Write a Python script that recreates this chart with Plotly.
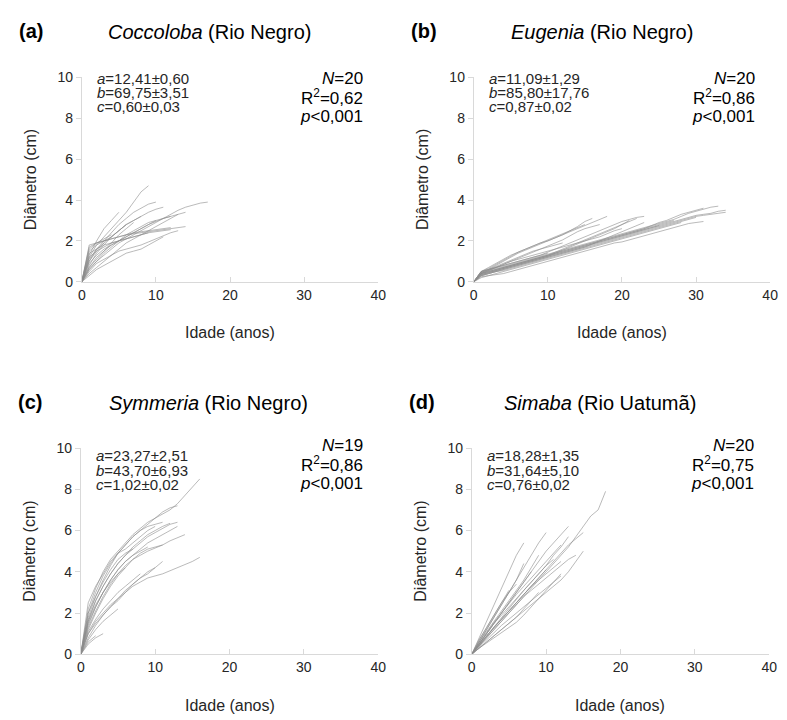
import plotly.graph_objects as go

# ---------------- data (diameter in cm at each year of age, starting at age 0) ----------------
coccoloba = [
    [0, 1.2, 1.8, 2.2, 2.6, 3.0, 3.4, 3.9, 4.4, 4.7],
    [0, 1.0, 1.6, 2.0, 2.4, 2.8, 3.1, 3.4, 3.6, 3.8, 3.9],
    [0, 0.8, 1.4, 1.8, 2.2, 2.5, 2.8, 3.0, 3.2, 3.4, 3.55, 3.65],
    [0, 0.6, 1.0, 1.3, 1.6, 1.9, 2.1, 2.3, 2.5, 2.7, 2.9, 3.1, 3.3, 3.5, 3.65, 3.75, 3.85, 3.9],
    [0, 0.7, 1.2, 1.5, 1.8, 2.0, 2.2, 2.4, 2.6, 2.8, 2.95, 3.1, 3.2, 3.3, 3.4],
    [0, 1.7, 1.9, 2.0, 2.1, 2.2, 2.3, 2.35, 2.4, 2.45, 2.5, 2.55, 2.6, 2.65, 2.7],
    [0, 0.5, 0.9, 1.1, 1.3, 1.5, 1.6, 1.7, 1.8, 1.95, 2.1, 2.25, 2.4, 2.5],
    [0, 1.3, 2.0, 2.6, 3.0, 3.4],
    [0, 1.8, 1.9, 2.0, 2.1, 2.2, 2.3, 2.4, 2.45, 2.5, 2.55, 2.6, 2.65],
    [0, 0.4, 0.7, 1.0, 1.3, 1.6, 1.9, 2.1, 2.3, 2.5, 2.7, 2.9, 3.1, 3.3],
    [0, 0.9, 1.3, 1.6, 1.8, 2.0, 2.2, 2.4, 2.6, 2.8, 3.0],
    [0, 0.6, 1.0, 1.4, 1.7, 2.0, 2.3, 2.5, 2.7, 2.9, 3.0, 3.1, 3.2],
    [0, 1.5, 1.8, 2.0, 2.2, 2.5, 2.8, 3.0, 3.2],
    [0, 1.0, 1.5, 1.9, 2.2, 2.5, 2.8],
    [0, 0.3, 0.6, 0.8, 1.0, 1.2, 1.4, 1.5, 1.6, 1.8, 2.0, 2.2],
    [0, 1.6, 1.9, 2.1, 2.3],
    [0, 1.2, 1.5, 1.7, 1.9, 2.0, 2.1, 2.2, 2.3, 2.4],
    [0, 1.1, 1.6, 1.9],
    [0, 0.7, 1.1, 1.5, 1.9, 2.3, 2.6, 2.9],
    [0, 1.4, 1.6, 1.8, 1.9, 2.0, 2.1, 2.2, 2.3, 2.4, 2.45, 2.5, 2.55],
]

eugenia = [
    [0, 0.45, 0.6, 0.8, 1.0, 1.2, 1.4, 1.55, 1.7, 1.85, 2.0, 2.15, 2.3, 2.5, 2.7, 2.95, 3.1],
    [0, 0.5, 0.65, 0.85, 1.05, 1.25, 1.45, 1.6, 1.75, 1.9, 2.0, 2.15, 2.3, 2.45, 2.6, 2.75, 2.9, 3.05, 3.2],
    [0, 0.4, 0.55, 0.7, 0.85, 1.0, 1.15, 1.3, 1.45, 1.6, 1.75, 1.9, 2.05, 2.25, 2.45, 2.6, 2.7, 2.8],
    [0, 0.5, 0.6, 0.7, 0.8, 0.9, 1.0, 1.1, 1.2, 1.3, 1.45, 1.6, 1.75, 1.9, 2.05, 2.2, 2.35, 2.5, 2.65, 2.8, 2.95, 3.05, 3.15, 3.2],
    [0, 0.4, 0.5, 0.6, 0.7, 0.8, 0.9, 1.0, 1.1, 1.2, 1.3, 1.45, 1.6, 1.75, 1.9, 2.05, 2.2, 2.35, 2.5, 2.65, 2.8, 2.95, 3.1],
    [0, 0.35, 0.45, 0.55, 0.65, 0.75, 0.85, 0.95, 1.05, 1.15, 1.25, 1.4, 1.55, 1.7, 1.85, 2.0, 2.15, 2.3, 2.45, 2.6, 2.8, 3.0],
    [0, 0.3, 0.4, 0.5, 0.6, 0.7, 0.8, 0.9, 1.0, 1.1, 1.2, 1.3, 1.4, 1.5, 1.6, 1.7, 1.85, 2.0, 2.15, 2.3, 2.45, 2.6, 2.75, 2.9],
    [0, 0.4, 0.5, 0.6, 0.7, 0.8, 0.9, 1.0, 1.1, 1.2, 1.3, 1.4, 1.5, 1.6, 1.7, 1.8, 1.9, 2.0, 2.1, 2.2, 2.3, 2.4, 2.5, 2.6, 2.75, 2.9, 3.0, 3.15, 3.3, 3.4, 3.5, 3.6],
    [0, 0.45, 0.55, 0.65, 0.75, 0.85, 0.95, 1.05, 1.15, 1.25, 1.35, 1.45, 1.55, 1.65, 1.75, 1.85, 1.95, 2.05, 2.15, 2.25, 2.35, 2.45, 2.55, 2.65, 2.75, 2.85, 2.95, 3.05, 3.2, 3.35, 3.45, 3.55, 3.65, 3.7],
    [0, 0.35, 0.45, 0.55, 0.65, 0.75, 0.85, 0.95, 1.05, 1.15, 1.25, 1.35, 1.45, 1.55, 1.65, 1.75, 1.85, 1.95, 2.05, 2.15, 2.25, 2.35, 2.45, 2.55, 2.65, 2.75, 2.85, 2.95, 3.05, 3.15, 3.25, 3.3, 3.35, 3.45, 3.5],
    [0, 0.3, 0.4, 0.5, 0.6, 0.7, 0.8, 0.9, 1.0, 1.1, 1.2, 1.3, 1.4, 1.5, 1.6, 1.7, 1.8, 1.9, 2.0, 2.1, 2.2, 2.3, 2.4, 2.5, 2.6, 2.7, 2.8, 2.9, 3.0, 3.1, 3.2, 3.25, 3.3, 3.35, 3.4],
    [0, 0.25, 0.3, 0.35, 0.4, 0.5, 0.6, 0.7, 0.8, 0.9, 1.0, 1.1, 1.2, 1.3, 1.4, 1.5, 1.6, 1.7, 1.8, 1.9, 1.95, 2.05, 2.15, 2.25, 2.35, 2.45, 2.55, 2.65, 2.75, 2.85, 2.9, 2.95],
    [0, 0.2, 0.3, 0.4, 0.5, 0.6, 0.7, 0.8, 0.9, 1.0, 1.1, 1.2, 1.3, 1.4, 1.5, 1.6, 1.7, 1.8, 1.9, 2.0, 2.1, 2.2, 2.3, 2.4, 2.5, 2.6, 2.7, 2.8, 2.9],
    [0, 0.5, 0.7, 0.9, 1.1, 1.3, 1.45, 1.6, 1.75, 1.9, 2.05, 2.2, 2.35, 2.5, 2.65, 2.8],
    [0, 0.4, 0.55, 0.7, 0.85, 1.0, 1.1, 1.2, 1.3, 1.4, 1.5, 1.6, 1.7, 1.8, 1.9, 2.0, 2.1, 2.2, 2.35, 2.5, 2.6],
    [0, 0.35, 0.45, 0.55, 0.65, 0.75, 0.85, 0.95, 1.05, 1.15, 1.25, 1.35, 1.45, 1.55, 1.65, 1.75, 1.85, 1.95, 2.05, 2.15, 2.25, 2.35, 2.45, 2.55, 2.65, 2.75],
    [0, 0.5, 0.6, 0.75, 0.9, 1.05, 1.2, 1.35, 1.5, 1.6, 1.7, 1.8, 1.9],
    [0, 0.3, 0.4, 0.5, 0.55, 0.65, 0.75, 0.85, 0.95, 1.05, 1.15, 1.25, 1.35, 1.45, 1.55, 1.65, 1.75, 1.85, 1.95, 2.05, 2.15, 2.25, 2.35, 2.45, 2.55, 2.65, 2.75, 2.85, 2.95, 3.05, 3.15],
    [0, 0.45, 0.6, 0.7, 0.8, 0.9, 1.0, 1.1, 1.2, 1.3, 1.4],
    [0, 0.4, 0.5, 0.6, 0.7, 0.8, 0.9, 1.0, 1.1, 1.2, 1.3, 1.4, 1.5, 1.6, 1.7, 1.8, 1.9, 2.0, 2.1, 2.2, 2.3, 2.4, 2.5, 2.6, 2.7, 2.8, 2.9, 3.0],
]

symmeria = [
    [0, 2.2, 3.2, 4.0, 4.6, 5.0, 5.4, 5.8, 6.1, 6.4, 6.6, 6.8, 7.0, 7.3, 7.7, 8.1, 8.5],
    [0, 2.0, 3.0, 3.8, 4.4, 4.9, 5.3, 5.7, 6.0, 6.3, 6.6, 6.9, 7.1, 7.2],
    [0, 1.8, 2.8, 3.6, 4.3, 4.9, 5.3, 5.7, 6.0, 6.2, 6.3, 6.4],
    [0, 1.6, 2.6, 3.3, 3.9, 4.4, 4.8, 5.1, 5.4, 5.7, 5.9, 6.1, 6.3, 6.4],
    [0, 1.4, 2.3, 3.0, 3.6, 4.1, 4.5, 4.8, 5.1, 5.4, 5.6, 5.8, 6.0, 6.2],
    [0, 1.2, 2.0, 2.7, 3.3, 3.8, 4.2, 4.6, 4.9, 5.1, 5.2, 5.3, 5.5, 5.65, 5.8],
    [0, 1.0, 1.6, 2.0, 2.4, 2.7, 3.0, 3.3, 3.5, 3.7, 3.8, 3.9, 4.05, 4.2, 4.35, 4.5, 4.7],
    [0, 0.8, 1.4, 1.9, 2.3, 2.6, 3.0, 3.4, 3.7, 3.9, 4.2, 4.5],
    [0, 0.7, 1.2, 1.6, 1.9, 2.2],
    [0, 0.5, 0.8, 1.0],
    [0, 2.5, 3.3, 3.9, 4.5, 4.9, 5.1, 5.4, 5.7, 6.0, 6.2],
    [0, 1.7, 2.6, 3.3, 3.9, 4.4, 4.8, 5.2, 5.5, 5.8, 6.0, 6.2, 6.35],
    [0, 1.5, 2.3, 3.0, 3.6, 4.1, 4.5, 4.8, 5.0, 5.2],
    [0, 1.3, 2.1, 2.8, 3.4, 3.9, 4.3, 4.6, 4.8, 5.0, 5.15, 5.3],
    [0, 1.1, 1.7, 2.2, 2.6, 3.0, 3.3, 3.6, 3.9],
    [0, 0.6, 0.9],
    [0, 2.0, 2.8, 3.5, 4.1, 4.6, 4.9, 5.1],
    [0, 1.0, 1.5, 1.9, 2.3, 2.7, 3.1, 3.4, 3.7, 4.0, 4.2],
    [0, 1.6, 2.4, 3.0, 3.5, 3.9, 4.2],
]

simaba = [
    [0, 0.4, 0.8, 1.2, 1.6, 2.0, 2.4, 2.8, 3.2, 3.6, 4.0, 4.4, 4.8, 5.2, 5.7, 6.2, 6.7, 7.0, 7.9],
    [0, 0.8, 1.6, 2.4, 3.2, 4.0, 4.8, 5.4],
    [0, 0.6, 1.2, 1.8, 2.4, 3.0, 3.6, 4.2, 4.8, 5.4, 5.9],
    [0, 0.5, 1.0, 1.5, 2.0, 2.5, 3.0, 3.5, 4.0, 4.5, 5.0, 5.4, 5.8, 6.2],
    [0, 0.45, 0.9, 1.3, 1.7, 2.1, 2.5, 2.9, 3.3, 3.7, 4.1, 4.5, 4.9, 5.3, 5.6, 5.9],
    [0, 0.3, 0.6, 0.9, 1.2, 1.5, 1.8, 2.1, 2.4, 2.7, 3.0, 3.3, 3.6, 4.0, 4.5, 5.0],
    [0, 0.4, 0.8, 1.2, 1.6, 2.0, 2.4, 2.8, 3.1, 3.4, 3.7, 4.0, 4.3, 4.6, 4.8],
    [0, 0.35, 0.7, 1.05, 1.4, 1.7, 2.0, 2.3, 2.6, 2.9, 3.2, 3.5, 3.9],
    [0, 0.5, 1.0, 1.5, 1.9, 2.3, 2.7, 3.1, 3.5, 3.9, 4.3, 4.8, 5.2, 5.7],
    [0, 0.6, 1.1, 1.6, 2.1, 2.6, 3.1, 3.6, 4.2, 4.8],
    [0, 0.7, 1.3, 1.9, 2.5, 3.0, 3.4],
    [0, 0.5, 1.0, 1.5, 2.0, 2.5, 3.0, 3.5, 4.0],
    [0, 0.45, 0.9, 1.35, 1.8, 2.25, 2.7, 3.1, 3.5, 3.9, 4.3, 4.6],
    [0, 0.3, 0.55, 0.8, 1.05, 1.3, 1.55, 1.9, 2.3, 2.7, 3.1, 3.5, 3.8],
    [0, 0.6, 1.2, 1.8, 2.4, 3.0, 3.6, 4.4],
    [0, 0.5, 0.9, 1.3, 1.7, 2.1, 2.5, 2.9, 3.3, 3.7, 4.1],
    [0, 0.55, 1.05, 1.55, 2.0, 2.5, 2.9, 3.3, 3.7, 4.1, 4.5, 4.9, 5.3],
    [0, 0.7, 1.3, 1.9, 2.5, 3.1],
    [0, 0.3, 0.6, 0.9, 1.2, 1.5, 1.8, 2.2, 2.6, 3.0],
    [0, 0.45, 0.9, 1.3, 1.7, 2.1, 2.5, 2.9, 3.3, 3.6, 3.9, 4.2, 4.5],
]

panel_letters = ["(a)", "(b)", "(c)", "(d)"]
genus_names = ["Coccoloba", "Eugenia", "Symmeria", "Simaba"]
river_names = ["(Rio Negro)", "(Rio Negro)", "(Rio Negro)", "(Rio Uatumã)"]
param_a = ["12,41±0,60", "11,09±1,29", "23,27±2,51", "18,28±1,35"]
param_b = ["69,75±3,51", "85,80±17,76", "43,70±6,93", "31,64±5,10"]
param_c = ["0,60±0,03", "0,87±0,02", "1,02±0,02", "0,76±0,02"]
n_trees = [20, 20, 19, 20]
r_squared = ["0,62", "0,86", "0,86", "0,75"]
p_values = ["<0,001", "<0,001", "<0,001", "<0,001"]

x_ticks = [0, 10, 20, 30, 40]
y_ticks = [0, 2, 4, 6, 8, 10]
x_label = "Idade (anos)"
y_label = "Diâmetro (cm)"

# ---------------- layout geometry (pixels of the 787x720 picture) ----------------
W, H = 787, 720
# (x0, x1, ytop, ybottom) of each plot area in pixels
boxes = [
    (79, 380, 71, 280),
    (477, 778, 71, 280),
    (78, 380, 450, 661),
    (475, 777, 450, 661),
]
abc_top = [72, 72, 458, 458]     # centre of the first parameter line
stat_top = [72, 72, 447, 447]    # centre of the N= line

def px(x):
    return x / W

def py(y):
    return 1 - y / H

FONT = "Arial, Liberation Sans, sans-serif"
TXT = "#262626"
AX = "#d9d9d9"
LINE = "rgba(140,140,140,0.6)"

fig = go.Figure()
layout = dict(
    width=W, height=H,
    margin=dict(l=0, r=0, t=0, b=0, pad=0),
    paper_bgcolor="white", plot_bgcolor="white",
    showlegend=False,
    font=dict(family=FONT, color=TXT),
)
annotations = []
datasets = [coccoloba, eugenia, symmeria, simaba]

for i, (series, box) in enumerate(zip(datasets, boxes)):
    x0, x1, yt, yb = box
    sfx = "" if i == 0 else str(i + 1)
    for ys in series:
        fig.add_trace(go.Scatter(
            x=list(range(len(ys))), y=ys, mode="lines",
            line=dict(color=LINE, width=1),
            xaxis="x" + sfx, yaxis="y" + sfx, hoverinfo="skip",
        ))
    layout["xaxis" + sfx] = dict(
        domain=[px(x0), px(x1)], anchor="y" + sfx, range=[0, 40],
        tickvals=x_ticks, showgrid=False, zeroline=False,
        showline=True, linecolor=AX, linewidth=1,
        ticks="inside", ticklen=5, tickcolor=AX,
        tickfont=dict(size=14, color=TXT, family=FONT),
    )
    layout["yaxis" + sfx] = dict(
        domain=[py(yb), py(yt)], anchor="x" + sfx, range=[0, 10],
        tickvals=y_ticks, showgrid=False, zeroline=False,
        showline=True, linecolor=AX, linewidth=1,
        ticks="outside", ticklen=5, tickcolor=AX,
        tickfont=dict(size=14, color=TXT, family=FONT),
    )
    # panel letter and title
    annotations.append(dict(
        x=px(x0 - 66), y=py(yt - 47), xref="paper", yref="paper",
        text="<b>" + panel_letters[i] + "</b>", showarrow=False,
        xanchor="left", yanchor="middle", font=dict(size=20, color="black"),
    ))
    annotations.append(dict(
        x=px(x0 + 130), y=py(yt - 46), xref="paper", yref="paper",
        text="<i>" + genus_names[i] + "</i> " + river_names[i], showarrow=False,
        xanchor="center", yanchor="middle", font=dict(size=20, color="black"),
    ))
    # axis titles
    annotations.append(dict(
        x=px(x0 - 52), y=py((yt + yb) / 2), xref="paper", yref="paper",
        text=y_label, showarrow=False, textangle=-90,
        xanchor="center", yanchor="middle", font=dict(size=16, color=TXT),
    ))
    annotations.append(dict(
        x=px((x0 + x1) / 2), y=py(yb + 52), xref="paper", yref="paper",
        text=x_label, showarrow=False,
        xanchor="center", yanchor="middle", font=dict(size=16, color=TXT),
    ))
    # parameter block (left)
    for k, (nm, val) in enumerate(zip(["a", "b", "c"], [param_a[i], param_b[i], param_c[i]])):
        annotations.append(dict(
            x=px(x0 + 13), y=py(abc_top[i] + 14.5 * k), xref="paper", yref="paper",
            text="<i>" + nm + "</i>=" + val, showarrow=False,
            xanchor="left", yanchor="middle", font=dict(size=15, color=TXT),
        ))
    # statistics block (right)
    stats = ["<i>N</i>=" + str(n_trees[i]),
             "R<sup>2</sup>=" + r_squared[i],
             "<i>p</i>" + p_values[i]]
    for k, t in enumerate(stats):
        annotations.append(dict(
            x=px(x1 - 13), y=py(stat_top[i] + 19.5 * k), xref="paper", yref="paper",
            text=t, showarrow=False,
            xanchor="right", yanchor="middle", font=dict(size=17, color="black"),
        ))

layout["annotations"] = annotations
fig.update_layout(**layout)
fig.write_html(
    "out.html",
    config={"displayModeBar": False},
    post_script="document.body.style.margin='0';document.body.style.overflow='hidden';",
)
